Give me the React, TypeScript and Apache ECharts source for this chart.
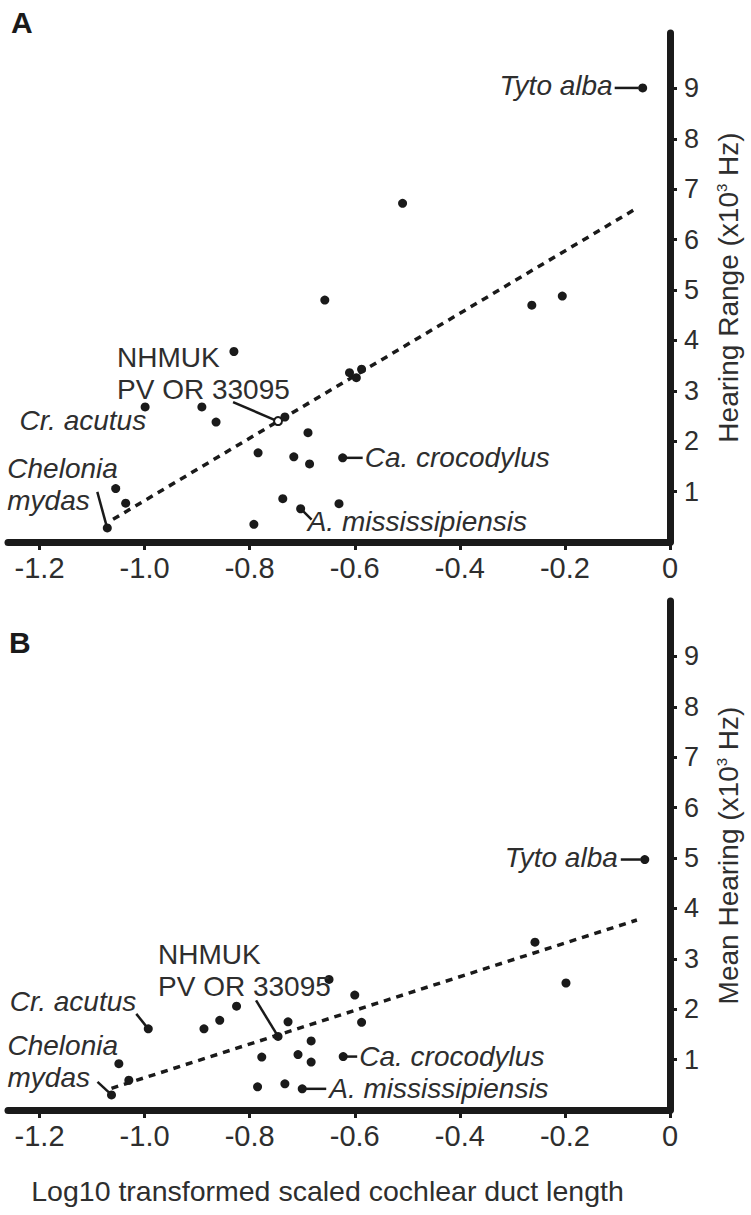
import { useEffect, useRef } from "react";
import * as echarts from "echarts";

const FONT = '"Liberation Sans", Arial, Helvetica, sans-serif';
const INK = "#1a1a1a";
const TEXT = "#2e2e2e";

const xTicks = [-1.2, -1.0, -0.8, -0.6, -0.4, -0.2, 0];
const yTicks = [1, 2, 3, 4, 5, 6, 7, 8, 9];

const speciesLabels = [
  "Tyto alba",
  "Ca. crocodylus",
  "A. mississipiensis",
  "Chelonia\nmydas",
  "Cr. acutus",
  "NHMUK\nPV OR 33095",
];

// Panel A: hearing range (x10^3 Hz)
const otherA: [number, number][] = [
  [-0.657, 4.8], [-0.83, 3.78], [-0.61, 3.36], [-0.597, 3.26], [-0.587, 3.43],
  [-0.891, 2.68], [-0.864, 2.38], [-0.733, 2.48], [-0.689, 2.17], [-0.784, 1.77],
  [-0.716, 1.69], [-0.686, 1.55], [-1.055, 1.06], [-1.036, 0.77], [-0.737, 0.86],
  [-0.63, 0.76], [-0.792, 0.35], [-0.263, 4.7], [-0.205, 4.88], [-0.509, 6.72],
];
const labeledA: [number, number][] = [
  [-0.052, 9.01], [-0.623, 1.67], [-0.703, 0.66], [-1.071, 0.28], [-0.999, 2.68], [-0.746, 2.4],
];
const trendA: [number, number][] = [[-1.06, 0.45], [-0.067, 6.6]];

// Panel B: mean hearing (x10^3 Hz)
const otherB: [number, number][] = [
  [-0.887, 1.61], [-0.857, 1.78], [-0.825, 2.06], [-0.727, 1.75], [-0.683, 1.37],
  [-0.777, 1.05], [-0.708, 1.1], [-0.683, 0.95], [-1.049, 0.92], [-1.03, 0.59],
  [-0.785, 0.46], [-0.733, 0.52], [-0.6, 2.28], [-0.587, 1.74], [-0.649, 2.59],
  [-0.257, 3.33], [-0.198, 2.52],
];
const labeledB: [number, number][] = [
  [-0.048, 4.97], [-0.622, 1.06], [-0.7, 0.42], [-1.063, 0.3], [-0.993, 1.61], [-0.746, 1.46],
];
const trendB: [number, number][] = [[-1.063, 0.43], [-0.063, 3.77]];

type Ann = { dx: number; dy: number; align: string; line: number[] | null; italic: boolean };

// pixel offsets of each label relative to its point
const annLayoutA: Ann[] = [
  { dx: -30, dy: -2, align: "right", line: [-4, 0, -28, 0], italic: true },
  { dx: 22, dy: 0, align: "left", line: [3, 0, 20, 0], italic: true },
  { dx: 7, dy: 13, align: "left", line: [2, 2, 11, 11], italic: true },
  { dx: -100, dy: -43.5, align: "left", line: [-10, -36, -1, -3], italic: true },
  { dx: 1, dy: 14, align: "right", line: null, italic: true },
  { dx: -161, dy: -48, align: "left", line: [-45, -19, -3, -1], italic: false },
];
const annLayoutB: Ann[] = [
  { dx: -27, dy: -2, align: "right", line: [-4, 0, -24, 0], italic: true },
  { dx: 16, dy: 0, align: "left", line: [3, 0, 14, 0], italic: true },
  { dx: 27, dy: 0, align: "left", line: [3, 0, 24, 0], italic: true },
  { dx: -104, dy: -33, align: "left", line: [-14, -13, -1, -1], italic: true },
  { dx: -12, dy: -27.5, align: "right", line: [-12, -15, 0, 0], italic: true },
  { dx: -120, dy: -66, align: "left", line: [-22, -36, 0, 0], italic: false },
];

function xAxisCfg(gridIndex: number, withName: boolean) {
  return {
    type: "value",
    gridIndex,
    min: -1.26,
    max: 0,
    position: "bottom",
    name: withName ? "Log10 transformed scaled cochlear duct length" : "",
    nameLocation: "middle",
    nameGap: 66,
    nameTextStyle: { fontFamily: FONT, fontSize: 28.5, color: TEXT, padding: [0, 23, 0, 0] },
    axisLine: { show: true, onZero: false, lineStyle: { color: INK, width: 7 } },
    axisTick: { show: true, customValues: xTicks, length: 8, lineStyle: { color: INK, width: 3 } },
    axisLabel: {
      customValues: xTicks,
      margin: 11,
      fontFamily: FONT,
      fontSize: 29,
      color: TEXT,
      formatter: (v: number) => (Math.abs(v) < 1e-9 ? "0" : v.toFixed(1)),
    },
    splitLine: { show: false },
  };
}

function yAxisCfg(gridIndex: number, name: string) {
  return {
    type: "value",
    gridIndex,
    min: 0,
    max: 10.1,
    position: "right",
    name,
    nameLocation: "middle",
    nameRotate: 90,
    nameGap: 44,
    nameTextStyle: {
      fontFamily: FONT,
      fontSize: 28,
      color: TEXT,
      verticalAlign: "top",
      rich: {
        sup: { fontFamily: FONT, fontSize: 15, color: TEXT, verticalAlign: "top", lineHeight: 15 },
      },
    },
    axisLine: { show: true, onZero: false, lineStyle: { color: INK, width: 7 } },
    axisTick: { show: true, customValues: yTicks, length: 7, lineStyle: { color: INK, width: 3 } },
    axisLabel: { customValues: yTicks, margin: 14, fontFamily: FONT, fontSize: 27, color: TEXT },
    splitLine: { show: false },
  };
}

export default function App() {
  const ref = useRef<HTMLDivElement>(null);
  useEffect(() => {
    if (!ref.current) return;
    const chart = echarts.init(ref.current, undefined, { renderer: "svg" });
    const dot = { symbol: "circle", symbolSize: 9, itemStyle: { color: INK, opacity: 1 }, z: 3 };
    const trend = {
      type: "line",
      showSymbol: false,
      symbol: "none",
      z: 2,
      lineStyle: { color: INK, width: 3.5, type: [7, 6], opacity: 1 },
    };
    chart.setOption({
      animation: false,
      backgroundColor: "#ffffff",
      grid: [
        { left: 8, right: 81, top: 33, height: 509, containLabel: false },
        { left: 8, right: 81, top: 601, height: 509, containLabel: false },
      ],
      xAxis: [xAxisCfg(0, false), xAxisCfg(1, true)],
      yAxis: [
        yAxisCfg(0, "Hearing Range (x10{sup|3} Hz)"),
        yAxisCfg(1, "Mean Hearing (x10{sup|3} Hz)"),
      ],
      series: [
        { ...trend, name: "trendA", xAxisIndex: 0, yAxisIndex: 0, data: trendA },
        { ...dot, type: "scatter", name: "A", xAxisIndex: 0, yAxisIndex: 0, data: [...otherA, ...labeledA.slice(0, 5)] },
        {
          type: "scatter",
          name: "A-NHMUK",
          xAxisIndex: 0,
          yAxisIndex: 0,
          symbol: "circle",
          symbolSize: 8,
          z: 4,
          itemStyle: { color: "#ffffff", borderColor: INK, borderWidth: 2, opacity: 1 },
          data: [labeledA[5]],
        },
        { ...trend, name: "trendB", xAxisIndex: 1, yAxisIndex: 1, data: trendB },
        { ...dot, type: "scatter", name: "B", xAxisIndex: 1, yAxisIndex: 1, data: [...otherB, ...labeledB] },
      ],
    });

    const graphics: any[] = [
      {
        type: "text",
        x: 11,
        y: 22.5,
        style: { text: "A", font: `bold 30px ${FONT}`, fill: INK, align: "left", verticalAlign: "middle" },
      },
      {
        type: "text",
        x: 9,
        y: 642,
        style: { text: "B", font: `bold 30px ${FONT}`, fill: INK, align: "left", verticalAlign: "middle" },
      },
    ];
    const addAnn = (gridIndex: number, pts: [number, number][], layout: Ann[]) => {
      pts.forEach((p, i) => {
        const px = chart.convertToPixel({ xAxisIndex: gridIndex, yAxisIndex: gridIndex }, p) as number[];
        const a = layout[i];
        if (a.line) {
          graphics.push({
            type: "line",
            z: 10,
            shape: { x1: px[0] + a.line[0], y1: px[1] + a.line[1], x2: px[0] + a.line[2], y2: px[1] + a.line[3] },
            style: { stroke: INK, lineWidth: 2.5 },
          });
        }
        graphics.push({
          type: "text",
          z: 10,
          x: px[0] + a.dx,
          y: px[1] + a.dy,
          style: {
            text: speciesLabels[i],
            font: `${a.italic ? "italic " : ""}28px ${FONT}`,
            fill: TEXT,
            align: a.align,
            verticalAlign: "middle",
            lineHeight: 32,
          },
        });
      });
    };
    addAnn(0, labeledA, annLayoutA);
    addAnn(1, labeledB, annLayoutB);
    chart.setOption({ graphic: graphics });

    return () => chart.dispose();
  }, []);
  return (
    <div
      ref={ref}
      style={{ position: "absolute", left: 0, top: 0, width: 751, height: 1215, background: "#fff" }}
    />
  );
}
